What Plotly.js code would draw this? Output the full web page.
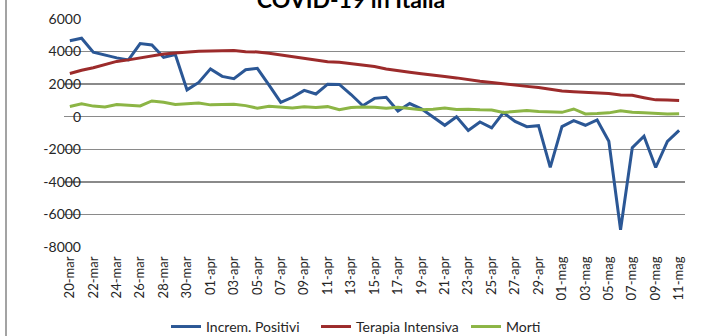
<!DOCTYPE html>
<html>
<head>
<meta charset="utf-8">
<script src="https://cdn.plot.ly/plotly-3.0.1.min.js"></script>
<style>html,body{margin:0;padding:0;background:#fff;}#wrap{position:relative;width:702px;height:336px;}#chart{width:702px;height:336px;}
#border{position:absolute;left:5px;top:0;width:2px;height:336px;background:#a3a3a3;z-index:10;}</style>
</head>
<body>
<div id="wrap"><div id="chart"></div><div id="border"></div></div>
<script>
const dates = ["20-mar","21-mar","22-mar","23-mar","24-mar","25-mar","26-mar","27-mar","28-mar","29-mar","30-mar","31-mar",
"01-apr","02-apr","03-apr","04-apr","05-apr","06-apr","07-apr","08-apr","09-apr","10-apr","11-apr","12-apr","13-apr","14-apr","15-apr",
"16-apr","17-apr","18-apr","19-apr","20-apr","21-apr","22-apr","23-apr","24-apr","25-apr","26-apr","27-apr","28-apr","29-apr","30-apr",
"01-mag","02-mag","03-mag","04-mag","05-mag","06-mag","07-mag","08-mag","09-mag","10-mag","11-mag"];
const incremPositivi = [4670,4821,3957,3780,3612,3491,4492,4401,3651,3815,1648,2107,
2937,2477,2339,2886,2972,1941,880,1195,1615,1396,1996,1984,1363,675,1127,
1189,355,809,486,-20,-528,-10,-851,-321,-680,256,-290,-608,-548,-3106,
-608,-239,-525,-199,-1513,-6939,-1904,-1198,-3119,-1518,-836];
const terapiaIntensiva = [2655,2857,3009,3204,3396,3489,3612,3732,3856,3906,3981,4023,
4035,4053,4068,3994,3977,3898,3792,3693,3605,3497,3381,3343,3260,3186,3079,
2936,2812,2733,2635,2573,2471,2384,2267,2173,2102,2009,1956,1863,1795,1694,
1578,1539,1501,1479,1427,1333,1311,1168,1034,1027,999];
const morti = [627,793,651,601,743,683,662,969,889,756,812,837,
727,760,766,681,525,636,604,542,610,570,619,431,566,602,578,
525,575,482,433,454,534,437,464,420,415,260,333,382,323,285,
269,474,174,195,236,369,274,243,194,165,179];
const yTicks = [-8000,-6000,-4000,-2000,0,2000,4000,6000];
const xTickLabels = dates.filter((d,i)=>i%2===0);

const font = "Lato, 'Open Sans', sans-serif";
const traces = [
  {x: dates, y: incremPositivi, name: "Increm. Positivi", type: "scatter", mode: "lines", line: {color: "#2b5795", width: 3}},
  {x: dates, y: terapiaIntensiva, name: "Terapia Intensiva", type: "scatter", mode: "lines", line: {color: "#9c2b2b", width: 3}},
  {x: dates, y: morti, name: "Morti", type: "scatter", mode: "lines", line: {color: "#8cb545", width: 3}}
];
const layout = {
  width: 702, height: 336,
  margin: {l: 64, r: 17, t: 19, b: 89, pad: 0},
  paper_bgcolor: "#fff", plot_bgcolor: "#fff",
  title: {text: "<b>COVID-19 in Italia</b>", font: {family: font, size: 23, color: "#000"},
          x: 0.5, xref: "container", y: 1.0, yref: "container", yanchor: "middle"},
  showlegend: true,
  legend: {orientation: "h", xref: "container", x: 0.2365, xanchor: "left", yref: "container", y: 0.027, yanchor: "middle",
           font: {family: font, size: 14, color: "#262626"}, entrywidth: 105, entrywidthmode: "pixels", itemwidth: 30},
  xaxis: {type: "category", range: [-0.5, 52.5], autorange: false, tickmode: "array", tickvals: xTickLabels, ticktext: xTickLabels, tickangle: -90,
          showgrid: false, zeroline: false, showline: false, ticks: "", automargin: false,
          tickfont: {family: font, size: 13, color: "#262626"}, ticklabelstandoff: 6, fixedrange: true},
  yaxis: {range: [-8000, 6000], autorange: false, tickvals: yTicks, ticktext: yTicks.map(String), showgrid: true, gridcolor: "#8a8a8a", gridwidth: 1.5,
          zeroline: true, zerolinecolor: "#8a8a8a", zerolinewidth: 1.5, showline: false, ticks: "", ticklabelstandoff: -18, automargin: false,
          tickfont: {family: font, size: 14, color: "#262626"}, fixedrange: true}
};
Plotly.newPlot("chart", traces, layout, {displayModeBar: false, staticPlot: true});
</script>
</body>
</html>
